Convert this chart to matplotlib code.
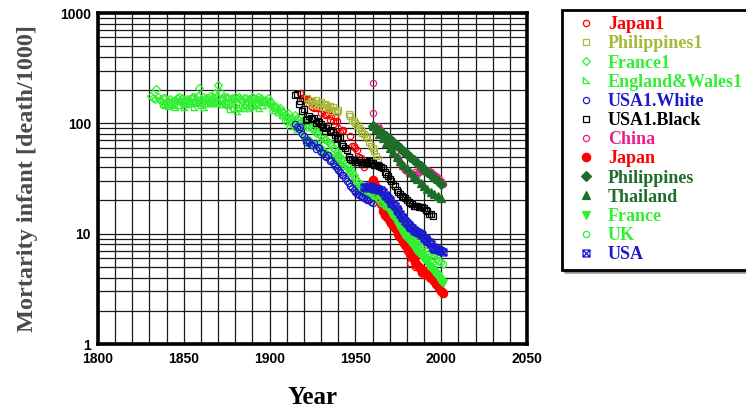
import matplotlib
matplotlib.use("Agg")
import matplotlib.pyplot as plt
from matplotlib.path import Path
from matplotlib.ticker import FixedLocator, NullFormatter
from matplotlib.font_manager import FontProperties

# ---------------- data ----------------
france1_years = list(range(1831, 1961))
france1_vals = [
    178, 170, 165, 205, 172, 162, 158, 168, 170, 160,
    158, 165, 160, 155, 162, 170, 175, 160, 168, 158,
    160, 165, 158, 170, 175, 172, 165, 178, 208, 162,
    172, 162, 168, 170, 178, 165, 172, 188, 175, 222,
    192, 168, 165, 172, 175, 170, 162, 168, 165, 175,
    168, 172, 165, 162, 168, 170, 160, 165, 162, 172,
    168, 165, 175, 162, 168, 160, 155, 162, 168, 160,
    150, 140, 145, 140, 135, 138, 130, 125, 120, 115,
    125, 110, 112, 108, 118, 112, 108, 115, 105, 100,
    98, 92, 95, 90, 92, 88, 82, 84, 80, 76,
    74, 72, 70, 68, 66, 64, 60, 58, 55, 52,
    50, 48, 46, 44, 42, 40, 38, 36, 34, 32,
    30, 29, 28, 27, 26, 25, 24, 23, 22, 21,
]

ew1_years = list(range(1838, 1961))
ew1_vals = [
    150, 148, 154,
    145, 152, 150, 148, 140, 162, 158, 148, 160, 140,
    150, 152, 158, 158, 152, 140, 156, 158, 152, 148,
    152, 140, 152, 154, 152, 160, 152, 153, 155, 160,
    158, 150, 150, 152, 158, 146, 136, 152, 138, 152,
    130, 142, 138, 148, 138, 150, 145, 137, 144, 150,
    149, 148, 155, 137, 160, 148, 156, 160, 162, 154,
    151, 133, 132, 145, 128, 132, 118, 120, 109, 105,
    125, 95, 105, 100, 104, 88, 92, 92, 85, 78,
    80, 74, 67, 72, 72, 67, 65, 62, 68, 57,
    60, 59, 58, 54, 52, 53, 52, 48, 46, 50,
    52, 45, 44, 41, 41, 39, 37, 32, 30, 28.5,
    28, 27, 26, 25, 24, 23.5, 23, 22.5, 22, 21.5,
]

japan1_years = [1918, 1919, 1920, 1921, 1922, 1923, 1924, 1925, 1926, 1927,
                1928, 1929, 1930, 1931, 1932, 1933, 1934, 1935, 1936, 1937,
                1938, 1939, 1940, 1941, 1942, 1943, 1947, 1948, 1949, 1950,
                1951, 1952, 1953, 1954, 1955, 1970, 1975, 1980, 1982, 1985,
                1988, 1990, 1993, 1995, 1998, 2000]
japan1_vals = [189, 170, 166, 168, 166, 163, 156, 142, 137, 141,
               138, 142, 124, 132, 118, 121, 125, 107, 117, 106,
               114, 106, 90, 84, 85, 87, 77, 62, 62, 60,
               57, 50, 49, 45, 40, 12.5, 9.5, 7.0, 5.4, 5.0,
               4.4, 4.2, 4.0, 3.9, 3.4, 3.0]

phil1_years = [1922, 1923, 1924, 1925, 1926, 1927, 1928, 1929, 1930, 1931,
               1932, 1933, 1934, 1935, 1936, 1937, 1938, 1939, 1940, 1946,
               1947, 1948, 1949, 1950, 1951, 1952, 1953, 1954, 1955, 1956,
               1957, 1958, 1959, 1960, 1961, 1962, 1963]
phil1_vals = [168, 152, 160, 158, 148, 162, 145, 152, 156, 140,
              150, 146, 138, 143, 130, 140, 133, 128, 131, 122,
              116, 108, 104, 100, 96, 91, 87, 82, 80, 76,
              73, 68, 62, 60, 56, 51, 48]

usaw_years = list(range(1915, 1961))
usaw_vals = [98, 93, 88, 92, 80, 76, 68, 70, 68, 64,
             64, 66, 58, 61, 60, 55, 54, 51, 50, 52,
             46, 47, 44, 41, 39, 38, 36, 34, 34, 32,
             30, 29, 27, 26, 25, 24, 23, 22.5, 22, 21.5,
             21, 20.5, 20, 20, 19.5, 19]

usab_years = list(range(1915, 1996))
usab_vals = [181, 185, 150, 160, 130, 135, 108, 110, 117, 112,
             110, 112, 100, 106, 102, 98, 93, 86, 91, 94,
             83, 87, 83, 79, 72, 73, 75, 65, 62, 60,
             57, 50, 48, 47, 47, 45, 45, 47, 45, 43,
             43, 44, 45, 46, 44, 44, 42, 42, 42, 41,
             40, 39, 36, 35, 33, 31, 30, 28, 27, 25,
             24, 23, 22, 21.5, 21, 20, 19.5, 19, 18.5, 18,
             18, 18, 17.5, 17.5, 17.5, 17, 16.5, 16, 15, 15,
             14.5]

china_years = [1960, 1960, 1963, 1964, 1965, 1966, 1967, 1968, 1969, 1970,
               1971, 1972, 1973, 1974, 1975, 1976, 1977, 1978, 1979, 1980,
               1981, 1982, 1983, 1984, 1985, 1986, 1987, 1988, 1989, 1990,
               1991, 1992, 1993, 1994, 1995, 1996, 1997, 1998, 1999, 2000, 2001]
china_vals = [232, 124, 95, 90, 85, 80, 78, 75, 72, 70,
              65, 60, 55, 50, 48, 44, 42, 40, 38, 37,
              36, 35, 35, 35, 36, 35, 36, 37, 38, 38,
              37, 38, 37, 36, 35, 34, 33, 32, 31, 30, 28]

japan_years = list(range(1960, 2002))
japan_vals = [30.7, 28.6, 26.4, 23.2, 20.4, 18.5, 16.0, 14.9, 14.5, 13.8,
              13.1, 12.4, 11.7, 11.3, 10.8, 10.0, 9.3, 8.9, 8.4, 7.9,
              7.5, 7.1, 6.6, 6.2, 6.0, 5.5, 5.2, 5.0, 4.8, 4.6,
              4.5, 4.4, 4.3, 4.2, 4.0, 3.9, 3.7, 3.5, 3.4, 3.2,
              3.0, 2.9]

phil_years = [1960, 1962, 1964, 1966, 1968, 1970, 1972, 1974, 1976, 1978,
              1980, 1982, 1984, 1986, 1988, 1990, 1992, 1994, 1996, 1998, 2000]
phil_vals = [95, 90, 85, 80, 76, 72, 68, 64, 60, 56,
             53, 50, 47, 44, 41, 38, 36, 34, 32, 30, 28]

thai_years = [1960, 1962, 1964, 1966, 1968, 1970, 1972, 1974, 1976, 1978,
              1980, 1982, 1984, 1986, 1988, 1990, 1992, 1994, 1996, 1998, 2000]
thai_vals = [95, 88, 80, 73, 66, 60, 55, 50, 46, 42,
             39, 36, 33, 31, 29, 27, 25.5, 24, 23, 22, 21]

france_years = list(range(1960, 2002))
france_vals = [25.5, 25.0, 24.5, 23.5, 22.5, 21.0, 20.0, 19.0, 18.0, 17.0,
               16.0, 15.2, 14.4, 13.6, 12.8, 12.0, 11.2, 10.6, 10.0, 9.6,
               9.2, 8.8, 8.4, 8.0, 7.6, 7.3, 7.0, 6.7, 6.4, 6.1,
               5.9, 5.7, 5.4, 5.1, 4.9, 4.7, 4.5, 4.3, 4.1, 3.9,
               3.7, 3.6]

uk_years = list(range(1960, 2002))
uk_vals = [22.5, 22.1, 21.8, 21.1, 20.0, 19.0, 18.8, 18.0, 17.8, 17.3,
           17.0, 16.2, 15.6, 15.0, 14.4, 13.8, 13.0, 12.4, 11.9, 11.5,
           11.0, 10.5, 10.2, 9.8, 9.5, 9.2, 9.0, 8.8, 8.6, 8.2,
           7.9, 7.4, 7.0, 6.7, 6.5, 6.3, 6.1, 5.9, 5.7, 5.6,
           5.5, 5.3]

usa_years = list(range(1955, 2002))
usa_vals = [26.4, 26.0, 26.3, 27.1, 26.4, 26.0, 25.3, 25.3, 25.2, 24.8,
            24.7, 23.7, 22.4, 21.8, 20.9, 20.0, 19.1, 18.5, 17.7, 16.7,
            16.1, 15.2, 14.1, 13.8, 13.1, 12.6, 11.9, 11.5, 11.2, 10.8,
            10.6, 10.4, 10.1, 10.0, 9.8, 9.2, 8.9, 8.5, 8.4, 8.0,
            7.6, 7.3, 7.2, 7.2, 7.1, 6.9, 6.8]

x_ticks = [1800, 1850, 1900, 1950, 2000, 2050]
y_ticks = [1, 10, 100, 1000]

# ---------------- styles ----------------
RED = "#ff0000"
OLIVE = "#a8b83a"
LGREEN = "#33ee33"
BLUE = "#1a1acc"
BLACK = "#000000"
PINK = "#e8208a"
DGREEN = "#1e6e2a"

tri_corner = Path([(-1, -1), (1, -1), (-1, 1), (-1, -1)],
                  [Path.MOVETO, Path.LINETO, Path.LINETO, Path.CLOSEPOLY])
box_cross = Path([(-1, -1), (1, -1), (1, 1), (-1, 1), (-1, -1),
                  (-1, -1), (1, 1), (1, -1), (-1, 1)],
                 [Path.MOVETO, Path.LINETO, Path.LINETO, Path.LINETO, Path.CLOSEPOLY,
                  Path.MOVETO, Path.LINETO, Path.MOVETO, Path.LINETO])

series = [
    ("Japan1", japan1_years, japan1_vals, RED, "o", False, 4.5),
    ("Philippines1", phil1_years, phil1_vals, OLIVE, "s", False, 5),
    ("France1", france1_years, france1_vals, LGREEN, "D", False, 4),
    ("England&Wales1", ew1_years, ew1_vals, LGREEN, tri_corner, False, 4.5),
    ("USA1.White", usaw_years, usaw_vals, BLUE, "o", False, 4.5),
    ("USA1.Black", usab_years, usab_vals, BLACK, "s", False, 5),
    ("China", china_years, china_vals, PINK, "o", False, 4.5),
    ("Japan", japan_years, japan_vals, RED, "o", True, 6),
    ("Philippines", phil_years, phil_vals, DGREEN, "D", True, 5),
    ("Thailand", thai_years, thai_vals, DGREEN, "^", True, 5.5),
    ("France", france_years, france_vals, LGREEN, "v", True, 5.5),
    ("UK", uk_years, uk_vals, LGREEN, "o", False, 4.5),
    ("USA", usa_years, usa_vals, BLUE, box_cross, False, 5),
]

fig = plt.figure(figsize=(7.46, 4.11), dpi=100)
ax = fig.add_axes([98 / 746, 67 / 411, 429 / 746, 331 / 411])

handles = []
for name, xs, ys, col, mk, filled, ms in series:
    h, = ax.plot(xs, ys, linestyle="none", marker=mk, markersize=ms,
                 markeredgecolor=col, markeredgewidth=0.9,
                 markerfacecolor=col if filled else "none", label=name)
    handles.append(h)

ax.set_yscale("log")
ax.set_xlim(1800, 2050)
ax.set_ylim(1, 1000)

ax.set_xticks(x_ticks)
ax.set_yticks(y_ticks)
ax.set_yticklabels([str(v) for v in y_ticks])
ax.xaxis.set_minor_locator(FixedLocator(list(range(1800, 2051, 10))))
minor_y = [m * 10 ** e for e in range(0, 3) for m in range(2, 10)]
ax.yaxis.set_minor_locator(FixedLocator(minor_y))
ax.yaxis.set_minor_formatter(NullFormatter())
ax.tick_params(which="both", length=0)
ax.tick_params(axis="y", labelsize=10, pad=5)
ax.tick_params(axis="x", labelsize=10, pad=6)
for lab in ax.get_xticklabels() + ax.get_yticklabels():
    lab.set_fontfamily("Liberation Sans")
    lab.set_fontweight("bold")

ax.grid(True, which="both", color="#1a1a1a", linewidth=0.9)
ax.set_axisbelow(True)
for sp in ax.spines.values():
    sp.set_linewidth(2.6)
    sp.set_color("black")

ax.set_xlabel("Year", fontfamily="Liberation Serif", fontweight="bold",
              fontsize=18, labelpad=14)
ax.set_ylabel("Mortarity infant [death/1000]", fontfamily="Liberation Serif",
              fontweight="bold", fontsize=17.5, color="#4a4a4a", labelpad=16)

label_colors = [RED, OLIVE, LGREEN, LGREEN, BLUE, BLACK, PINK,
                RED, DGREEN, DGREEN, LGREEN, LGREEN, BLUE]
leg = ax.legend(handles=handles, loc="upper left",
                bbox_to_anchor=(562 / 746, 1 - 10 / 411),
                bbox_transform=fig.transFigure,
                prop=FontProperties(family="Liberation Serif", weight="bold", size=13),
                labelcolor=label_colors, frameon=True, fancybox=False,
                shadow=True, edgecolor="black", framealpha=1,
                handlelength=2.0, handletextpad=0.2, labelspacing=0.12,
                borderpad=0.35, borderaxespad=0)
leg.get_frame().set_linewidth(2)

fig.savefig("out.png", dpi=100)
